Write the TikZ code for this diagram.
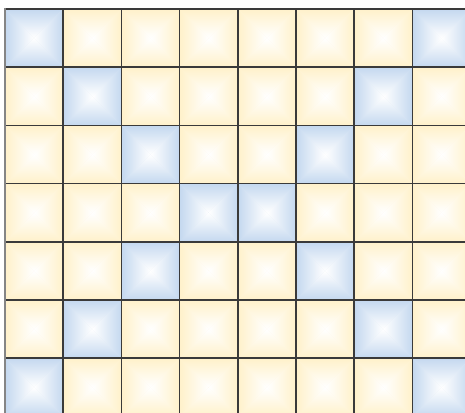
\documentclass[tikz,border=0pt]{standalone}
\usetikzlibrary{calc}
\definecolor{tileblue}{HTML}{C4D8EF}
\definecolor{tilecream}{HTML}{FFF1CA}
\definecolor{gridline}{HTML}{3A3A3A}
\definecolor{rimgray}{HTML}{858585}
\tikzset{
  gridstroke/.style={draw=gridline,line width=1.6pt},
  rimstroke/.style={draw=rimgray,line width=2.2pt},
}
% one pyramid-shaded tile: lower left corner (#1,#2), size #3, colour #4
\newcommand\pyramidtile[4]{%
  \fill[#4!55!white] (#1,#2) rectangle ++(#3,#3);
  \shade[top color=#4,bottom color=white] (#1,#2+#3) -- (#1+#3,#2+#3) -- (#1+#3/2,#2+#3/2) -- cycle;
  \shade[top color=white,bottom color=#4] (#1,#2) -- (#1+#3,#2) -- (#1+#3/2,#2+#3/2) -- cycle;
  \shade[left color=#4,right color=white] (#1,#2) -- (#1,#2+#3) -- (#1+#3/2,#2+#3/2) -- cycle;
  \shade[left color=white,right color=#4] (#1+#3,#2) -- (#1+#3,#2+#3) -- (#1+#3/2,#2+#3/2) -- cycle;
}

\begin{document}
\begin{tikzpicture}[x=1pt,y=1pt]
\useasboundingbox (0,0) rectangle (465,412);
\clip (0,0) rectangle (465,412);
\fill[white] (0,0) rectangle (465,412);

% tiles, blue ones on the two diagonals
\foreach \r in {1,...,7}{
  \foreach \c in {1,...,8}{
    \pgfmathtruncatemacro\k{min(\r,8-\r)}
    \pgfmathsetmacro\xx{5+(\c-1)*58.2}
    \pgfmathsetmacro\yy{403-\r*58.2}
    \pgfmathtruncatemacro\isblue{(\c==\k)||(\c==9-\k)}
    \ifnum\isblue=1
      \pyramidtile{\xx}{\yy}{58.2}{tileblue}
    \else
      \pyramidtile{\xx}{\yy}{58.2}{tilecream}
    \fi
  }
}

% grid
\foreach \i in {1,...,8}
  \draw[gridstroke] (5+\i*58.2,403) -- (5+\i*58.2,-10);
\foreach \j in {0,...,7}
  \draw[gridstroke] (5,403-\j*58.2) -- (475,403-\j*58.2);
\draw[rimstroke] (5,404) -- (5,-10);
\end{tikzpicture}
\end{document}
